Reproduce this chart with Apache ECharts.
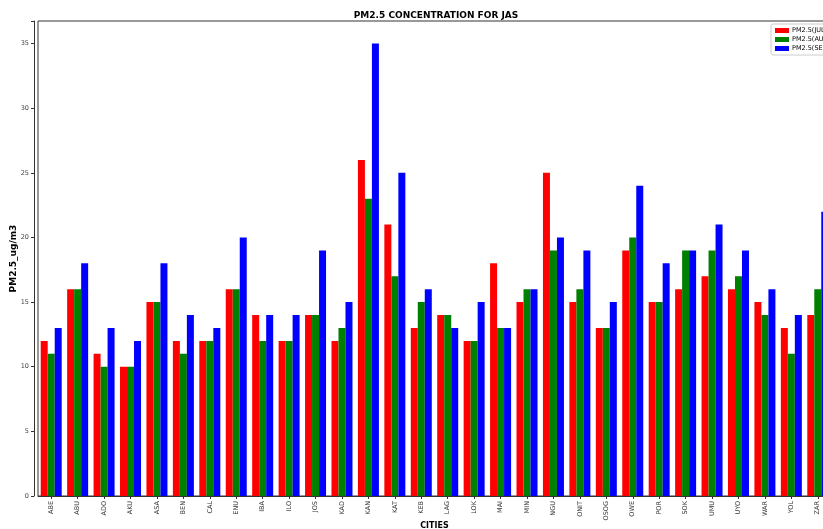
<!DOCTYPE html>
<html>
<head>
<meta charset="utf-8">
<script src="https://cdn.jsdelivr.net/npm/echarts@6/dist/echarts.min.js"></script>
<style>html,body{margin:0;padding:0;background:#fff;}#c{width:823px;height:529px;}</style>
</head>
<body>
<div id="c"></div>
<script>
var cities = ["ABE","ABU","ADO","AKU","ASA","BEN","CAL","ENU","IBA","ILO","JOS","KAD","KAN","KAT","KEB","LAG","LOK","MAI","MIN","NGU","ONIT","OSOG","OWE","POR","SOK","UMU","UYO","WAR","YOL","ZAR"];
var jul  = [12,16,11,10,15,12,12,16,14,12,14,12,26,21,13,14,12,18,15,25,15,13,19,15,16,17,16,15,13,14];
var aug  = [11,16,10,10,15,11,12,16,12,12,14,13,23,17,15,14,12,13,16,19,16,13,20,15,19,19,17,14,11,16];
var sep  = [13,18,13,12,18,14,13,20,14,14,19,15,35,25,16,13,15,13,16,20,19,15,24,18,19,21,19,16,14,22];
var seriesNames = ["PM2.5(JULY)","PM2.5(AUG)","PM2.5(SEPT)"];
var yTicks = [0,5,10,15,20,25,30,35];

var chart = echarts.init(document.getElementById('c'), null, {renderer:'canvas'});
var font = 'DejaVu Sans';
function mk(name, data, color){
  return {name:name, type:'bar', data:data, barWidth:7, barGap:'0%',
    itemStyle:{color:color}, emphasis:{disabled:true}};
}
chart.setOption({
  animation:false,
  backgroundColor:'#fff',
  title:{text:'PM2.5 CONCENTRATION FOR JAS', left:431, top:6, textAlign:'center',
    textStyle:{fontFamily:font, fontSize:9, fontWeight:'bold', color:'#000'}},
  legend:{orient:'vertical', left:771, top:24, itemWidth:14, itemHeight:5, itemGap:2,
    padding:[3,4,3,4], borderColor:'#ccc', borderWidth:1, borderRadius:2,
    icon:'rect', textStyle:{fontFamily:font, fontSize:6.5, color:'#000', padding:[0,0,0,-2]},
    data:seriesNames},
  grid:{left:38, right:-8, top:21, bottom:33, show:true, borderColor:'#333', borderWidth:1,
    containLabel:false, outerBoundsMode:'none'},
  xAxis:{type:'category', data:cities, name:'CITIES', nameLocation:'middle', nameGap:30,
    nameMoveOverlap:false,
    nameTextStyle:{fontFamily:font, fontSize:8, fontWeight:'bold', color:'#000', verticalAlign:'middle'},
    axisLine:{lineStyle:{color:'#333', width:1}},
    axisTick:{show:true, alignWithLabel:true, length:3, lineStyle:{color:'#333'}},
    axisLabel:{interval:0, rotate:90, fontFamily:font, fontSize:6.5, color:'#333', margin:5}},
  yAxis:{type:'value', min:0, max:36.75, interval:5, offset:4,
    name:'PM2.5_ug/m3', nameLocation:'middle', nameGap:20, nameRotate:90,
    nameMoveOverlap:false,
    nameTextStyle:{fontFamily:font, fontSize:9, fontWeight:'bold', color:'#000', verticalAlign:'middle'},
    splitLine:{show:false},
    axisLine:{show:true, lineStyle:{color:'#333', width:1}},
    axisTick:{show:true, length:3, lineStyle:{color:'#333'}},
    axisLabel:{fontFamily:font, fontSize:6.5, color:'#444', margin:5,
      formatter:function(v){return yTicks.indexOf(v)>=0 ? String(v) : '';}}},
  series:[mk(seriesNames[0], jul, '#ff0000'), mk(seriesNames[1], aug, '#008000'), mk(seriesNames[2], sep, '#0000ff')]
});
</script>
</body>
</html>
